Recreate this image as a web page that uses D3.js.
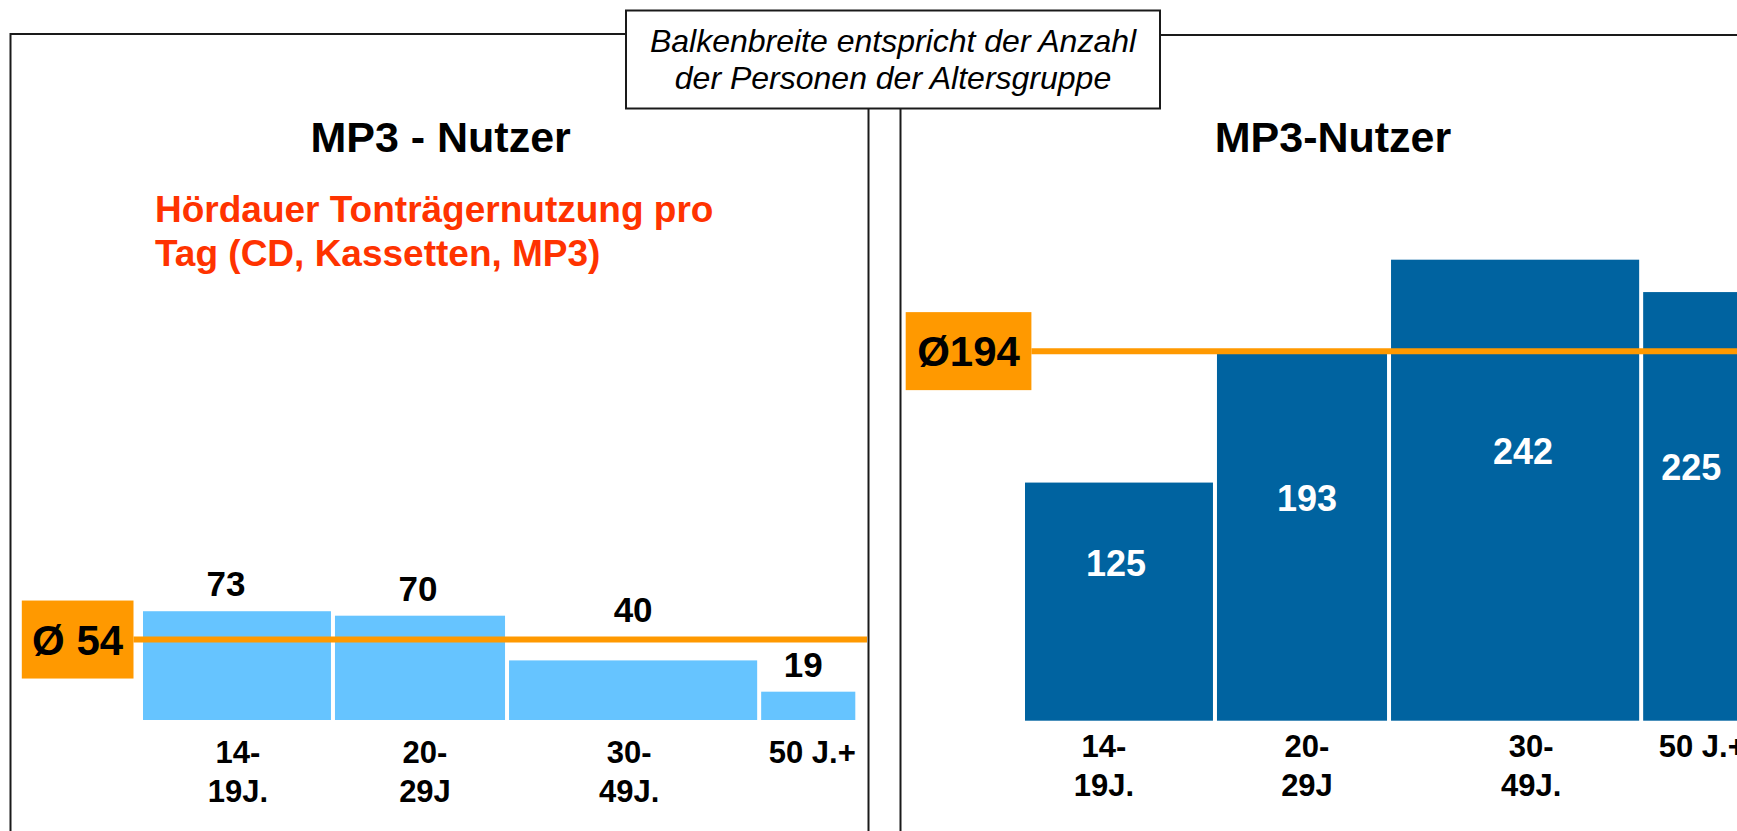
<!DOCTYPE html>
<html>
<head>
<meta charset="utf-8">
<script src="https://cdn.jsdelivr.net/npm/d3@7"></script>
<style>
  html, body { margin: 0; padding: 0; background: #fff; overflow: hidden; }
  svg { display: block; font-family: "Liberation Sans", Arial, Helvetica, sans-serif; }
</style>
</head>
<body>
<svg id="chart" width="1737" height="831"></svg>
<script>
// Altersgruppen (Achsenbeschriftung, zweizeilig)
const ageGroups = [["14-", "19J."], ["20-", "29J"], ["30-", "49J."], ["50 J.+"]];
// Anteil der Personen je Altersgruppe in % (bestimmt die Balkenbreite)
const personShare = [26.8, 24.3, 35.2, 13.7];
// Hördauer Tonträgernutzung pro Tag (Minuten)
const listeningMinutes = [73, 70, 40, 19];
const listeningAvg = 54;
// MP3-Nutzer, rechtes Diagramm
const mp3Values = [125, 193, 242, 225];
const mp3Avg = 194;

const svg = d3.select("#chart");
const W = 1737, H = 831;
const ORANGE = "#FF9900";
const FRAME = "#1a1a1a";

// ---- Rahmen der beiden Felder ----
svg.append("rect").attr("x", 10.5).attr("y", 34).attr("width", 858).attr("height", 900)
  .attr("fill", "none").attr("stroke", FRAME).attr("stroke-width", 2);
svg.append("rect").attr("x", 900.5).attr("y", 35).attr("width", 900).attr("height", 900)
  .attr("fill", "none").attr("stroke", FRAME).attr("stroke-width", 2);

// ---- Hinweisbox oben ----
svg.append("rect").attr("x", 626).attr("y", 10.5).attr("width", 534).attr("height", 98)
  .attr("fill", "#fff").attr("stroke", FRAME).attr("stroke-width", 2);
const note = svg.append("text").attr("text-anchor", "middle")
  .attr("font-size", 32).attr("font-style", "italic").attr("fill", "#000");
note.append("tspan").attr("x", 893).attr("y", 52).text("Balkenbreite entspricht der Anzahl");
note.append("tspan").attr("x", 893).attr("y", 89).text("der Personen der Altersgruppe");

// ---- Titel ----
svg.append("text").attr("x", 440.6).attr("y", 152).attr("text-anchor", "middle")
  .attr("font-size", 43).attr("font-weight", "bold").text("MP3 - Nutzer");
svg.append("text").attr("x", 1333).attr("y", 152).attr("text-anchor", "middle")
  .attr("font-size", 43).attr("font-weight", "bold").text("MP3-Nutzer");

const sub = svg.append("text").attr("font-size", 37).attr("font-weight", "bold").attr("fill", "#FF3300");
sub.append("tspan").attr("x", 155).attr("y", 222).text("Hördauer Tonträgernutzung pro");
sub.append("tspan").attr("x", 155).attr("y", 266).text("Tag (CD, Kassetten, MP3)");

// kumulierte Anteile -> Balkenanfang
const starts = personShare.map((d, i) => d3.sum(personShare.slice(0, i)));
const GAP = 4;

function drawPanel(cfg) {
  const g = svg.append("g");
  const x = d3.scaleLinear().domain([0, 100]).range(cfg.xRange);
  const y = d3.scaleLinear().domain(cfg.yDomain).range(cfg.yRange);
  const rows = cfg.values.map((v, i) => ({
    v, i, x0: x(starts[i]), x1: x(starts[i] + personShare[i]) - GAP
  }));

  g.selectAll("rect.bar").data(rows).join("rect").attr("class", "bar")
    .attr("x", d => d.x0).attr("width", d => d.x1 - d.x0)
    .attr("y", d => y(d.v)).attr("height", d => y(0) - y(d.v))
    .attr("fill", cfg.barColor);

  // Durchschnittslinie mit Kästchen
  const ay = y(cfg.avg);
  g.append("line").attr("x1", cfg.boxX[1]).attr("x2", cfg.lineEnd)
    .attr("y1", ay).attr("y2", ay).attr("stroke", ORANGE).attr("stroke-width", 6);
  g.append("rect").attr("x", cfg.boxX[0]).attr("width", cfg.boxX[1] - cfg.boxX[0])
    .attr("y", ay - 39).attr("height", 78).attr("fill", ORANGE);
  g.append("text").attr("x", (cfg.boxX[0] + cfg.boxX[1]) / 2).attr("y", ay + 15)
    .attr("text-anchor", "middle").attr("font-size", 42).attr("font-weight", "bold")
    .text(cfg.avgLabel);

  // Wertbeschriftung
  g.selectAll("text.val").data(rows).join("text").attr("class", "val")
    .attr("x", d => (d.x0 + d.x1) / 2 + cfg.valShiftX[d.i])
    .attr("y", d => cfg.labelY(d, y))
    .attr("text-anchor", "middle").attr("font-size", cfg.valSize).attr("font-weight", "bold")
    .attr("fill", cfg.valColor).text(d => d.v);

  // Achsenbeschriftung
  const axisLabels = g.selectAll("text.cat").data(rows).join("text").attr("class", "cat")
    .attr("text-anchor", "middle").attr("font-size", 31).attr("font-weight", "bold");
  axisLabels.each(function (d) {
    const t = d3.select(this);
    const cx = (d.x0 + d.x1) / 2 + cfg.catShiftX[d.i];
    ageGroups[d.i].forEach((line, k) => {
      t.append("tspan").attr("x", cx).attr("y", y(0) + cfg.catOffset + k * 38.7).text(line);
    });
  });
}

// Linkes Diagramm: Hördauer
const leftLift = [0, 0, -23, 0];
drawPanel({
  values: listeningMinutes, avg: listeningAvg, avgLabel: "Ø 54",
  xRange: [143, 859.3], yDomain: [0, 100], yRange: [720, 571],
  barColor: "#66C4FF", valColor: "#000", valSize: 35,
  labelY: (d, y) => y(d.v) - 15 + leftLift[d.i],
  valShiftX: [-11, -2, 0, -5], catShiftX: [1, 5, -4, 4],
  boxX: [21.8, 133.5], lineEnd: 867, catOffset: 43
});

// Rechtes Diagramm: MP3-Nutzer
drawPanel({
  values: mp3Values, avg: mp3Avg, avgLabel: "Ø194",
  xRange: [1025, 1741.3], yDomain: [0, 250], yRange: [720.7, 244.45],
  barColor: "#0063A0", valColor: "#fff", valSize: 36,
  labelY: (d, y) => (y(d.v) + y(0)) / 2 - 26,
  valShiftX: [-3, 5, 8, 1], catShiftX: [-15, 5, 16, 12],
  boxX: [905.7, 1031.4], lineEnd: W, catOffset: 36.6
});
</script>
</body>
</html>
